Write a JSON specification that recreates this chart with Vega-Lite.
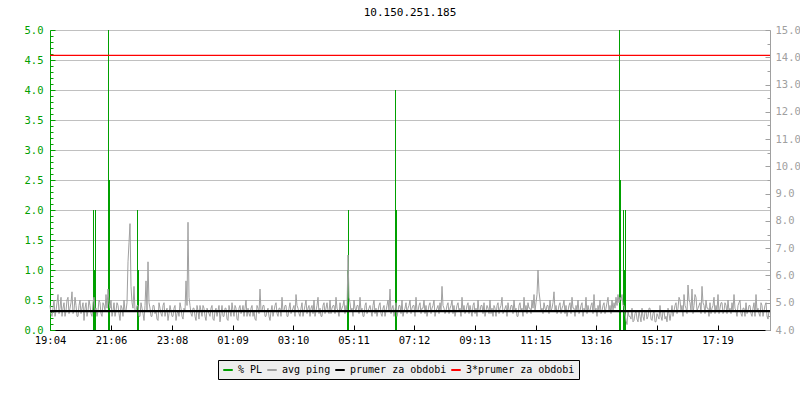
{
 "$schema": "https://vega.github.io/schema/vega-lite/v6.json",
 "width": 720,
 "height": 300,
 "autosize": {"type": "none"},
 "padding": {"left": 50, "top": 30, "right": 30, "bottom": 70},
 "background": "white",
 "title": {"text": "10.150.251.185", "font": "DejaVu Sans Mono", "fontSize": 11, "fontWeight": "normal", "color": "black", "anchor": "middle", "offset": 7},
 "config": {"view": {"stroke": null}, "font": "DejaVu Sans Mono", "axis": {"labelOverlap": false}},
 "datasets": {
  "pl": [
   {"m": 87, "pl": 2}, {"m": 89, "pl": 1}, {"m": 91, "pl": 2},
   {"m": 117, "pl": 5}, {"m": 119, "pl": 2.5},
   {"m": 175, "pl": 2}, {"m": 177, "pl": 1},
   {"m": 595, "pl": 1}, {"m": 597, "pl": 2},
   {"m": 691, "pl": 4}, {"m": 693, "pl": 2},
   {"m": 1139, "pl": 5}, {"m": 1141, "pl": 2.5},
   {"m": 1147, "pl": 2}, {"m": 1149, "pl": 1}, {"m": 1151, "pl": 2}
  ],
  "ping": [
   {"m":0,"v":4.9},{"m":4,"v":4.5},{"m":8,"v":5.1},{"m":12,"v":4.7},{"m":16,"v":5.3},{"m":20,"v":4.8},{"m":24,"v":4.5},{"m":28,"v":5.0},{"m":32,"v":4.7},{"m":36,"v":5.2},
   {"m":40,"v":4.8},{"m":44,"v":5.4},{"m":48,"v":4.7},{"m":52,"v":4.9},{"m":56,"v":4.5},{"m":60,"v":5.1},{"m":64,"v":4.8},{"m":68,"v":4.35},{"m":72,"v":5.0},{"m":76,"v":4.7},
   {"m":80,"v":4.9},{"m":84,"v":4.5},{"m":88,"v":5.2},{"m":92,"v":4.8},{"m":96,"v":4.7},{"m":100,"v":5.0},{"m":104,"v":4.5},{"m":108,"v":4.9},{"m":112,"v":5.3},{"m":116,"v":5.5},
   {"m":120,"v":4.8},{"m":124,"v":4.5},{"m":128,"v":5.0},{"m":132,"v":4.7},{"m":136,"v":4.9},{"m":140,"v":4.35},{"m":144,"v":4.8},{"m":148,"v":5.1},{"m":152,"v":4.7},{"m":156,"v":6.5},
   {"m":160,"v":7.9},{"m":164,"v":5.0},{"m":168,"v":5.6},{"m":172,"v":4.7},{"m":176,"v":4.9},{"m":180,"v":4.5},{"m":184,"v":4.8},{"m":188,"v":4.35},{"m":192,"v":5.8},{"m":196,"v":6.5},
   {"m":200,"v":4.8},{"m":204,"v":4.5},{"m":208,"v":4.9},{"m":212,"v":4.7},{"m":216,"v":4.35},{"m":220,"v":4.8},{"m":224,"v":4.5},{"m":228,"v":5.0},{"m":232,"v":4.7},{"m":236,"v":4.35},
   {"m":240,"v":4.9},{"m":244,"v":4.5},{"m":248,"v":4.8},{"m":252,"v":4.35},{"m":256,"v":4.7},{"m":260,"v":5.0},{"m":264,"v":4.5},{"m":268,"v":4.8},{"m":272,"v":5.8},{"m":276,"v":7.95},
   {"m":280,"v":4.9},{"m":284,"v":4.5},{"m":288,"v":4.8},{"m":292,"v":4.35},{"m":296,"v":4.7},{"m":300,"v":4.9},{"m":304,"v":4.5},{"m":308,"v":4.8},{"m":312,"v":4.35},{"m":316,"v":4.7},
   {"m":320,"v":4.5},{"m":324,"v":4.9},{"m":328,"v":4.35},{"m":332,"v":4.8},{"m":336,"v":4.7},{"m":340,"v":4.3},{"m":344,"v":4.9},{"m":348,"v":4.5},{"m":352,"v":4.8},{"m":356,"v":4.35},
   {"m":360,"v":4.7},{"m":364,"v":5.0},{"m":368,"v":4.5},{"m":372,"v":4.8},{"m":376,"v":4.35},{"m":380,"v":4.9},{"m":384,"v":4.7},{"m":388,"v":4.5},{"m":392,"v":5.1},{"m":396,"v":4.8},
   {"m":400,"v":4.5},{"m":404,"v":4.9},{"m":408,"v":4.7},{"m":412,"v":4.35},{"m":416,"v":4.8},{"m":420,"v":5.5},{"m":424,"v":4.7},{"m":428,"v":4.9},{"m":432,"v":4.5},{"m":436,"v":4.8},
   {"m":440,"v":4.35},{"m":444,"v":4.9},{"m":448,"v":4.7},{"m":452,"v":5.0},{"m":456,"v":4.5},{"m":460,"v":4.8},{"m":464,"v":5.2},{"m":468,"v":4.7},{"m":472,"v":4.9},{"m":476,"v":4.5},
   {"m":480,"v":5.0},{"m":484,"v":4.7},{"m":488,"v":4.9},{"m":492,"v":5.3},{"m":496,"v":4.8},{"m":500,"v":4.5},{"m":504,"v":5.0},{"m":508,"v":4.7},{"m":512,"v":5.1},{"m":516,"v":4.8},
   {"m":520,"v":4.5},{"m":524,"v":4.9},{"m":528,"v":5.1},{"m":532,"v":4.7},{"m":536,"v":5.2},{"m":540,"v":4.8},{"m":544,"v":4.5},{"m":548,"v":5.0},{"m":552,"v":4.8},{"m":556,"v":4.7},
   {"m":560,"v":5.1},{"m":564,"v":4.8},{"m":568,"v":4.9},{"m":572,"v":5.2},{"m":576,"v":4.7},{"m":580,"v":5.0},{"m":584,"v":4.8},{"m":588,"v":5.1},{"m":592,"v":4.9},{"m":596,"v":6.75},
   {"m":600,"v":5.0},{"m":604,"v":4.8},{"m":608,"v":5.1},{"m":612,"v":4.7},{"m":616,"v":4.9},{"m":620,"v":5.2},{"m":624,"v":4.8},{"m":628,"v":4.5},{"m":632,"v":5.0},{"m":636,"v":4.7},
   {"m":640,"v":4.9},{"m":644,"v":4.5},{"m":648,"v":5.1},{"m":652,"v":4.8},{"m":656,"v":4.7},{"m":660,"v":5.0},{"m":664,"v":4.5},{"m":668,"v":4.9},{"m":672,"v":4.7},{"m":676,"v":5.1},
   {"m":680,"v":5.5},{"m":684,"v":4.8},{"m":688,"v":4.5},{"m":692,"v":5.0},{"m":696,"v":4.7},{"m":700,"v":4.9},{"m":704,"v":5.1},{"m":708,"v":4.7},{"m":712,"v":5.0},{"m":716,"v":4.8},
   {"m":720,"v":5.1},{"m":724,"v":4.8},{"m":728,"v":4.9},{"m":732,"v":5.2},{"m":736,"v":4.7},{"m":740,"v":5.0},{"m":744,"v":4.8},{"m":748,"v":5.1},{"m":752,"v":4.9},{"m":756,"v":4.7},
   {"m":760,"v":5.0},{"m":764,"v":4.8},{"m":768,"v":5.1},{"m":772,"v":4.7},{"m":776,"v":4.9},{"m":780,"v":5.0},{"m":784,"v":5.6},{"m":788,"v":4.8},{"m":792,"v":4.7},{"m":796,"v":5.0},
   {"m":800,"v":4.8},{"m":804,"v":5.1},{"m":808,"v":4.9},{"m":812,"v":4.7},{"m":816,"v":5.0},{"m":820,"v":4.8},{"m":824,"v":5.2},{"m":828,"v":4.9},{"m":832,"v":4.7},{"m":836,"v":5.0},
   {"m":840,"v":4.9},{"m":844,"v":4.5},{"m":848,"v":5.0},{"m":852,"v":4.8},{"m":856,"v":5.1},{"m":860,"v":4.7},{"m":864,"v":4.9},{"m":868,"v":5.0},{"m":872,"v":4.7},{"m":876,"v":4.8},
   {"m":880,"v":5.1},{"m":884,"v":4.8},{"m":888,"v":4.9},{"m":892,"v":4.5},{"m":896,"v":5.0},{"m":900,"v":4.8},{"m":904,"v":5.2},{"m":908,"v":4.7},{"m":912,"v":4.9},{"m":916,"v":5.0},
   {"m":920,"v":4.7},{"m":924,"v":4.9},{"m":928,"v":5.1},{"m":932,"v":4.8},{"m":936,"v":4.5},{"m":940,"v":5.0},{"m":944,"v":4.8},{"m":948,"v":5.2},{"m":952,"v":4.9},{"m":956,"v":5.0},
   {"m":960,"v":4.8},{"m":964,"v":5.1},{"m":968,"v":5.3},{"m":972,"v":5.0},{"m":976,"v":6.2},{"m":980,"v":5.1},{"m":984,"v":4.8},{"m":988,"v":5.0},{"m":992,"v":4.7},{"m":996,"v":4.9},
   {"m":1000,"v":5.1},{"m":1004,"v":4.8},{"m":1008,"v":5.4},{"m":1012,"v":4.9},{"m":1016,"v":4.7},{"m":1020,"v":5.0},{"m":1024,"v":4.8},{"m":1028,"v":5.1},{"m":1032,"v":4.9},{"m":1036,"v":4.7},
   {"m":1040,"v":5.0},{"m":1044,"v":5.2},{"m":1048,"v":4.8},{"m":1052,"v":4.9},{"m":1056,"v":5.1},{"m":1060,"v":4.7},{"m":1064,"v":5.0},{"m":1068,"v":4.8},{"m":1072,"v":5.2},{"m":1076,"v":4.9},
   {"m":1080,"v":4.7},{"m":1084,"v":5.0},{"m":1088,"v":5.3},{"m":1092,"v":4.8},{"m":1096,"v":4.9},{"m":1100,"v":5.1},{"m":1104,"v":4.7},{"m":1108,"v":5.0},{"m":1112,"v":4.8},{"m":1116,"v":5.2},
   {"m":1120,"v":4.9},{"m":1124,"v":5.1},{"m":1128,"v":5.0},{"m":1132,"v":5.2},{"m":1136,"v":5.3},{"m":1140,"v":5.2},{"m":1144,"v":5.3},{"m":1148,"v":4.9},{"m":1152,"v":4.35},{"m":1156,"v":4.7},
   {"m":1160,"v":4.5},{"m":1164,"v":4.8},{"m":1168,"v":4.35},{"m":1172,"v":4.7},{"m":1176,"v":4.3},{"m":1180,"v":4.5},{"m":1184,"v":4.8},{"m":1188,"v":4.35},{"m":1192,"v":4.7},{"m":1196,"v":4.5},
   {"m":1200,"v":4.8},{"m":1204,"v":4.35},{"m":1208,"v":4.7},{"m":1212,"v":4.3},{"m":1216,"v":4.5},{"m":1220,"v":4.9},{"m":1224,"v":4.35},{"m":1228,"v":4.7},{"m":1232,"v":4.5},{"m":1236,"v":4.8},
   {"m":1240,"v":4.35},{"m":1244,"v":4.9},{"m":1248,"v":4.7},{"m":1252,"v":5.0},{"m":1256,"v":4.8},{"m":1260,"v":5.1},{"m":1264,"v":4.9},{"m":1268,"v":5.3},{"m":1272,"v":4.8},{"m":1276,"v":5.65},
   {"m":1280,"v":5.0},{"m":1284,"v":5.5},{"m":1288,"v":4.9},{"m":1292,"v":5.2},{"m":1296,"v":4.8},{"m":1300,"v":5.0},{"m":1304,"v":5.6},{"m":1308,"v":4.9},{"m":1312,"v":5.1},{"m":1316,"v":4.8},
   {"m":1320,"v":5.0},{"m":1324,"v":4.8},{"m":1328,"v":5.2},{"m":1332,"v":4.9},{"m":1336,"v":5.3},{"m":1340,"v":4.8},{"m":1344,"v":5.0},{"m":1348,"v":4.7},{"m":1352,"v":4.9},{"m":1356,"v":5.1},
   {"m":1360,"v":4.8},{"m":1364,"v":5.0},{"m":1368,"v":5.3},{"m":1372,"v":4.7},{"m":1376,"v":4.9},{"m":1380,"v":5.1},{"m":1384,"v":4.5},{"m":1388,"v":4.8},{"m":1392,"v":5.0},{"m":1396,"v":4.7},
   {"m":1400,"v":4.9},{"m":1404,"v":4.5},{"m":1408,"v":5.0},{"m":1412,"v":5.3},{"m":1416,"v":4.8},{"m":1420,"v":4.5},{"m":1424,"v":4.9},{"m":1428,"v":4.7},{"m":1432,"v":5.0},{"m":1436,"v":4.4},
   {"m":2,"v":4.6},{"m":6,"v":4.8},{"m":10,"v":4.5},{"m":14,"v":5.0},{"m":18,"v":4.6},{"m":22,"v":5.2},{"m":26,"v":4.8},{"m":30,"v":4.5},{"m":34,"v":5.1},{"m":38,"v":4.6},
   {"m":42,"v":5.0},{"m":46,"v":4.6},{"m":50,"v":5.2},{"m":54,"v":4.5},{"m":58,"v":4.9},{"m":62,"v":4.6},{"m":66,"v":5.0},{"m":70,"v":4.8},{"m":74,"v":4.5},{"m":78,"v":5.1},
   {"m":82,"v":4.6},{"m":86,"v":5.0},{"m":90,"v":4.7},{"m":94,"v":4.5},{"m":98,"v":5.1},{"m":102,"v":4.6},{"m":106,"v":5.0},{"m":110,"v":4.7},{"m":114,"v":4.8},{"m":118,"v":5.0},
   {"m":122,"v":5.1},{"m":126,"v":4.7},{"m":130,"v":4.5},{"m":134,"v":5.0},{"m":138,"v":4.6},{"m":142,"v":4.9},{"m":146,"v":4.5},{"m":150,"v":4.7},{"m":154,"v":5.0},{"m":158,"v":7.2},
   {"m":162,"v":5.6},{"m":166,"v":4.8},{"m":170,"v":4.7},{"m":174,"v":4.9},{"m":178,"v":4.5},{"m":182,"v":5.0},{"m":186,"v":4.6},{"m":190,"v":4.9},{"m":194,"v":4.7},{"m":198,"v":5.0},
   {"m":202,"v":4.5},{"m":206,"v":4.9},{"m":210,"v":4.6},{"m":214,"v":4.4},{"m":218,"v":5.0},{"m":222,"v":4.6},{"m":226,"v":4.9},{"m":230,"v":4.5},{"m":234,"v":4.8},{"m":238,"v":4.6},
   {"m":242,"v":4.7},{"m":246,"v":4.5},{"m":250,"v":4.9},{"m":254,"v":4.6},{"m":258,"v":4.5},{"m":262,"v":4.8},{"m":266,"v":4.4},{"m":270,"v":4.7},{"m":274,"v":4.9},{"m":278,"v":5.2},
   {"m":282,"v":4.6},{"m":286,"v":4.8},{"m":290,"v":4.5},{"m":294,"v":4.9},{"m":298,"v":4.4},{"m":302,"v":4.7},{"m":306,"v":4.9},{"m":310,"v":4.5},{"m":314,"v":4.8},{"m":318,"v":4.6},
   {"m":322,"v":4.8},{"m":326,"v":4.4},{"m":330,"v":4.7},{"m":334,"v":4.5},{"m":338,"v":4.9},{"m":342,"v":4.6},{"m":346,"v":4.5},{"m":350,"v":4.8},{"m":354,"v":4.4},{"m":358,"v":4.9},
   {"m":362,"v":4.5},{"m":366,"v":4.7},{"m":370,"v":4.9},{"m":374,"v":4.4},{"m":378,"v":4.8},{"m":382,"v":4.6},{"m":386,"v":4.9},{"m":390,"v":4.8},{"m":394,"v":4.5},{"m":398,"v":4.6},
   {"m":402,"v":4.8},{"m":406,"v":4.5},{"m":410,"v":4.4},{"m":414,"v":4.9},{"m":418,"v":4.6},{"m":422,"v":4.7},{"m":426,"v":4.9},{"m":430,"v":4.5},{"m":434,"v":4.7},{"m":438,"v":4.5},
   {"m":442,"v":4.7},{"m":446,"v":4.5},{"m":450,"v":4.9},{"m":454,"v":4.6},{"m":458,"v":4.8},{"m":462,"v":4.5},{"m":466,"v":4.7},{"m":470,"v":4.9},{"m":474,"v":4.5},{"m":478,"v":4.8},
   {"m":482,"v":4.6},{"m":486,"v":4.8},{"m":490,"v":4.5},{"m":494,"v":4.9},{"m":498,"v":4.6},{"m":502,"v":4.8},{"m":506,"v":4.5},{"m":510,"v":4.9},{"m":514,"v":4.6},{"m":518,"v":4.9},
   {"m":522,"v":4.8},{"m":526,"v":4.6},{"m":530,"v":4.5},{"m":534,"v":4.9},{"m":538,"v":4.6},{"m":542,"v":4.5},{"m":546,"v":4.9},{"m":550,"v":4.6},{"m":554,"v":5.0},{"m":558,"v":4.6},
   {"m":562,"v":4.6},{"m":566,"v":4.9},{"m":570,"v":4.6},{"m":574,"v":4.8},{"m":578,"v":4.5},{"m":582,"v":4.7},{"m":586,"v":4.9},{"m":590,"v":4.6},{"m":594,"v":4.7},{"m":598,"v":5.2},
   {"m":602,"v":4.7},{"m":606,"v":4.5},{"m":610,"v":4.8},{"m":614,"v":4.9},{"m":618,"v":4.6},{"m":622,"v":4.7},{"m":626,"v":4.5},{"m":630,"v":4.9},{"m":634,"v":4.6},{"m":638,"v":4.8},
   {"m":642,"v":4.7},{"m":646,"v":4.9},{"m":650,"v":4.6},{"m":654,"v":4.5},{"m":658,"v":4.9},{"m":662,"v":4.6},{"m":666,"v":4.8},{"m":670,"v":4.5},{"m":674,"v":4.9},{"m":678,"v":4.7},
   {"m":682,"v":4.6},{"m":686,"v":4.9},{"m":690,"v":4.7},{"m":694,"v":4.5},{"m":698,"v":4.9},{"m":702,"v":4.6},{"m":706,"v":4.5},{"m":710,"v":4.8},{"m":714,"v":4.6},{"m":718,"v":4.9},
   {"m":722,"v":4.6},{"m":726,"v":4.9},{"m":730,"v":4.5},{"m":734,"v":4.7},{"m":738,"v":4.9},{"m":742,"v":4.6},{"m":746,"v":4.8},{"m":750,"v":4.6},{"m":754,"v":4.5},{"m":758,"v":4.9},
   {"m":762,"v":4.6},{"m":766,"v":4.9},{"m":770,"v":4.5},{"m":774,"v":4.8},{"m":778,"v":4.6},{"m":782,"v":4.7},{"m":786,"v":4.9},{"m":790,"v":4.6},{"m":794,"v":4.9},{"m":798,"v":4.6},
   {"m":802,"v":4.9},{"m":806,"v":4.6},{"m":810,"v":4.5},{"m":814,"v":4.9},{"m":818,"v":4.7},{"m":822,"v":4.5},{"m":826,"v":4.7},{"m":830,"v":4.6},{"m":834,"v":4.9},{"m":838,"v":4.6},
   {"m":842,"v":4.7},{"m":846,"v":4.9},{"m":850,"v":4.6},{"m":854,"v":4.5},{"m":858,"v":4.7},{"m":862,"v":4.9},{"m":866,"v":4.6},{"m":870,"v":4.5},{"m":874,"v":4.9},{"m":878,"v":4.6},
   {"m":882,"v":4.6},{"m":886,"v":4.5},{"m":890,"v":4.8},{"m":894,"v":4.9},{"m":898,"v":4.6},{"m":902,"v":4.9},{"m":906,"v":4.6},{"m":910,"v":4.8},{"m":914,"v":4.5},{"m":918,"v":4.7},
   {"m":922,"v":4.9},{"m":926,"v":4.6},{"m":930,"v":4.7},{"m":934,"v":4.5},{"m":938,"v":4.9},{"m":942,"v":4.7},{"m":946,"v":4.5},{"m":950,"v":4.7},{"m":954,"v":4.6},{"m":958,"v":4.8},
   {"m":962,"v":4.6},{"m":966,"v":4.8},{"m":970,"v":4.7},{"m":974,"v":5.3},{"m":978,"v":5.4},{"m":982,"v":4.7},{"m":986,"v":4.6},{"m":990,"v":4.8},{"m":994,"v":4.9},{"m":998,"v":4.6},
   {"m":1002,"v":4.7},{"m":1006,"v":5.0},{"m":1010,"v":4.7},{"m":1014,"v":4.6},{"m":1018,"v":4.9},{"m":1022,"v":4.6},{"m":1026,"v":4.9},{"m":1030,"v":4.6},{"m":1034,"v":4.5},{"m":1038,"v":4.9},
   {"m":1042,"v":4.6},{"m":1046,"v":4.8},{"m":1050,"v":4.5},{"m":1054,"v":4.7},{"m":1058,"v":4.6},{"m":1062,"v":4.9},{"m":1066,"v":4.5},{"m":1070,"v":4.7},{"m":1074,"v":4.6},{"m":1078,"v":4.7},
   {"m":1082,"v":4.9},{"m":1086,"v":4.6},{"m":1090,"v":4.7},{"m":1094,"v":4.5},{"m":1098,"v":4.7},{"m":1102,"v":4.6},{"m":1106,"v":4.9},{"m":1110,"v":4.6},{"m":1114,"v":5.0},{"m":1118,"v":4.7},
   {"m":1122,"v":4.6},{"m":1126,"v":4.7},{"m":1130,"v":4.8},{"m":1134,"v":4.9},{"m":1138,"v":5.0},{"m":1142,"v":5.1},{"m":1146,"v":4.9},{"m":1150,"v":4.6},{"m":1154,"v":4.2},{"m":1158,"v":4.5},
   {"m":1162,"v":4.4},{"m":1166,"v":4.3},{"m":1170,"v":4.6},{"m":1174,"v":4.4},{"m":1178,"v":4.7},{"m":1182,"v":4.3},{"m":1186,"v":4.5},{"m":1190,"v":4.7},{"m":1194,"v":4.4},{"m":1198,"v":4.8},
   {"m":1202,"v":4.4},{"m":1206,"v":4.6},{"m":1210,"v":4.3},{"m":1214,"v":4.6},{"m":1218,"v":4.4},{"m":1222,"v":4.5},{"m":1226,"v":4.7},{"m":1230,"v":4.4},{"m":1234,"v":4.3},{"m":1238,"v":4.6},
   {"m":1242,"v":4.6},{"m":1246,"v":4.5},{"m":1250,"v":4.9},{"m":1254,"v":4.6},{"m":1258,"v":5.2},{"m":1262,"v":4.7},{"m":1266,"v":4.5},{"m":1270,"v":4.9},{"m":1274,"v":4.6},{"m":1278,"v":5.1},
   {"m":1282,"v":4.7},{"m":1286,"v":4.6},{"m":1290,"v":5.3},{"m":1294,"v":4.7},{"m":1298,"v":4.9},{"m":1302,"v":4.6},{"m":1306,"v":5.0},{"m":1310,"v":4.6},{"m":1314,"v":4.8},{"m":1318,"v":4.5},
   {"m":1322,"v":4.6},{"m":1326,"v":4.9},{"m":1330,"v":4.6},{"m":1334,"v":4.7},{"m":1338,"v":4.6},{"m":1342,"v":5.0},{"m":1346,"v":4.6},{"m":1350,"v":5.0},{"m":1354,"v":4.6},{"m":1358,"v":4.7},
   {"m":1362,"v":4.6},{"m":1366,"v":4.7},{"m":1370,"v":4.8},{"m":1374,"v":4.5},{"m":1378,"v":5.0},{"m":1382,"v":4.6},{"m":1386,"v":4.8},{"m":1390,"v":4.5},{"m":1394,"v":4.6},{"m":1398,"v":4.9},
   {"m":1402,"v":4.6},{"m":1406,"v":4.8},{"m":1410,"v":4.5},{"m":1414,"v":4.7},{"m":1418,"v":4.6},{"m":1422,"v":5.0},{"m":1426,"v":4.5},{"m":1430,"v":4.9},{"m":1434,"v":4.5},{"m":1438,"v":4.7}
  ],
  "avg": [{"mean": 4.69, "triple": 14.07}]
 },
 "layer": [
  {
   "data": {"name": "pl"},
   "mark": {"type": "rule", "strokeWidth": 1},
   "encoding": {
    "x": {
     "field": "m", "type": "quantitative",
     "scale": {"domain": [0, 1440], "nice": false, "zero": false},
     "axis": {
      "title": null, "grid": false,
      "values": [0, 122, 244, 365, 486, 607, 728, 849, 971, 1092, 1213, 1335],
      "labelExpr": "utcFormat(datum.value*60000+68640000,'%H:%M')",
      "domainColor": "#000000", "tickColor": "#000000", "labelColor": "#000000",
      "tickSize": -5, "labelPadding": 10, "labelFontSize": 10.5, "labelFont": "DejaVu Sans Mono",
      "labelFlush": false, "labelOverlap": false
     }
    },
    "y": {
     "field": "pl", "type": "quantitative",
     "scale": {"domain": [0, 5], "nice": false, "zero": false},
     "axis": {
      "orient": "left", "title": null,
      "values": [0,0.1,0.2,0.3,0.4,0.5,0.6,0.7,0.8,0.9,1,1.1,1.2,1.3,1.4,1.5,1.6,1.7,1.8,1.9,2,2.1,2.2,2.3,2.4,2.5,2.6,2.7,2.8,2.9,3,3.1,3.2,3.3,3.4,3.5,3.6,3.7,3.8,3.9,4,4.1,4.2,4.3,4.4,4.5,4.6,4.7,4.8,4.9,5],
      "labelExpr": "abs(datum.value*2-round(datum.value*2))<0.01 ? format(datum.value,'.1f') : ''",
      "grid": true, "gridColor": "#c0c0c0",
      "gridOpacity": {"condition": {"test": "abs(datum.value*2-round(datum.value*2))<0.01", "value": 1}, "value": 0},
      "tickSize": {"condition": {"test": "abs(datum.value*2-round(datum.value*2))<0.01", "value": -5}, "value": -3},
      "domainColor": "#00a000", "tickColor": "#00a000", "labelColor": "#00a000",
      "labelPadding": 12, "labelFontSize": 10.5, "labelFont": "DejaVu Sans Mono",
      "labelOverlap": false, "labelFlush": false
     }
    },
    "y2": {"datum": 0},
    "color": {
     "datum": "% PL", "type": "nominal",
     "scale": {"domain": ["% PL", "avg ping", "prumer za obdobi", "3*prumer za obdobi"], "range": ["#00a000", "#a0a0a0", "#000000", "#ff0000"]},
     "legend": {
      "title": null, "orient": "none", "legendX": 168, "legendY": 330,
      "direction": "horizontal", "symbolType": "stroke", "symbolStrokeWidth": 2, "symbolSize": 90,
      "labelFont": "DejaVu Sans Mono", "labelFontSize": 10, "labelColor": "#000000",
      "fillColor": "#eeeeee", "strokeColor": "#000000", "padding": 4, "columnPadding": 0, "labelOffset": 4
     }
    }
   }
  },
  {
   "layer": [
    {
     "data": {"name": "ping"},
     "mark": {"type": "line", "strokeWidth": 1},
     "encoding": {
      "x": {"field": "m", "type": "quantitative"},
      "y": {
       "field": "v", "type": "quantitative",
       "scale": {"domain": [4, 15], "nice": false, "zero": false},
       "axis": {
        "orient": "right", "title": null, "grid": false,
        "values": [4,4.5,5,5.5,6,6.5,7,7.5,8,8.5,9,9.5,10,10.5,11,11.5,12,12.5,13,13.5,14,14.5,15],
        "labelExpr": "datum.value % 1 == 0 ? format(datum.value,'.1f') : ''",
        "tickSize": {"condition": {"test": "datum.value % 1 == 0", "value": -5}, "value": -3},
        "domainColor": "#a0a0a0", "tickColor": "#a0a0a0", "labelColor": "#a0a0a0",
        "labelPadding": 10, "labelFontSize": 10.5, "labelFont": "DejaVu Sans Mono",
        "labelOverlap": false, "labelFlush": false, "labelBound": false
       }
      },
      "color": {"datum": "avg ping", "type": "nominal"}
     }
    },
    {
     "data": {"name": "avg"},
     "mark": {"type": "rule", "strokeWidth": 2.3},
     "encoding": {
      "y": {
       "field": "mean", "type": "quantitative",
       "axis": {
        "orient": "right", "title": null, "grid": false,
        "values": [4,4.5,5,5.5,6,6.5,7,7.5,8,8.5,9,9.5,10,10.5,11,11.5,12,12.5,13,13.5,14,14.5,15],
        "labelExpr": "datum.value % 1 == 0 ? format(datum.value,'.1f') : ''",
        "tickSize": {"condition": {"test": "datum.value % 1 == 0", "value": -5}, "value": -3},
        "domainColor": "#a0a0a0", "tickColor": "#a0a0a0", "labelColor": "#a0a0a0",
        "labelPadding": 10, "labelFontSize": 10.5, "labelFont": "DejaVu Sans Mono",
        "labelOverlap": false, "labelFlush": false, "labelBound": false
       }
      },
      "color": {"datum": "prumer za obdobi", "type": "nominal"}
     }
    },
    {
     "data": {"name": "avg"},
     "mark": {"type": "rule", "strokeWidth": 1.3},
     "encoding": {
      "y": {
       "field": "triple", "type": "quantitative",
       "axis": {
        "orient": "right", "title": null, "grid": false,
        "values": [4,4.5,5,5.5,6,6.5,7,7.5,8,8.5,9,9.5,10,10.5,11,11.5,12,12.5,13,13.5,14,14.5,15],
        "labelExpr": "datum.value % 1 == 0 ? format(datum.value,'.1f') : ''",
        "tickSize": {"condition": {"test": "datum.value % 1 == 0", "value": -5}, "value": -3},
        "domainColor": "#a0a0a0", "tickColor": "#a0a0a0", "labelColor": "#a0a0a0",
        "labelPadding": 10, "labelFontSize": 10.5, "labelFont": "DejaVu Sans Mono",
        "labelOverlap": false, "labelFlush": false, "labelBound": false
       }
      },
      "color": {"datum": "3*prumer za obdobi", "type": "nominal"}
     }
    }
   ]
  }
 ],
 "resolve": {"scale": {"y": "independent"}}
}
